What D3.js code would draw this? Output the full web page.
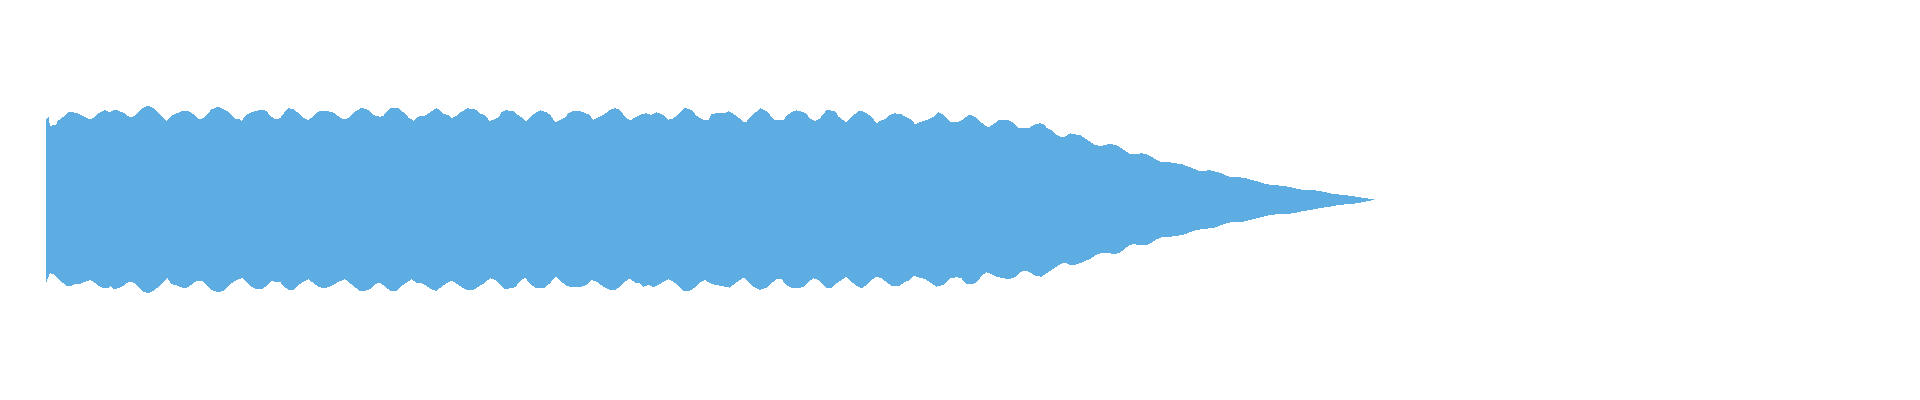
<!DOCTYPE html>
<html lang="en">
<head>
    <meta charset="UTF-8">
    <title>Waveform</title>
    <style>
        body {
            margin: 0;
            background-color: white;
        }

        svg {
            display: block;
            background-color: white;
        }
    </style>
</head>
<body>
    <svg width="1920" height="400" id="wave"></svg>

    <script src="https://d3js.org/d3.v7.min.js"></script>
    <script>
        // Envelope of the waveform
        // each entry: [time in seconds, amplitude]
        const upperEnvelope = [
            [0, 0.27], [0.001, 0.805], [0.005, 0.825], [0.008, 0.738], [0.020, 0.745], [0.023, 0.785],
            [0.035, 0.828], [0.045, 0.872], [0.051, 0.872], [0.061, 0.868], [0.068, 0.852], [0.077, 0.825],
            [0.088, 0.798], [0.095, 0.818], [0.105, 0.862], [0.118, 0.895], [0.128, 0.872], [0.138, 0.902],
            [0.148, 0.878], [0.158, 0.862], [0.168, 0.818], [0.178, 0.838], [0.188, 0.895], [0.201, 0.935],
            [0.211, 0.928], [0.221, 0.885], [0.231, 0.838], [0.241, 0.785], [0.251, 0.838], [0.261, 0.862],
            [0.275, 0.888], [0.285, 0.885], [0.295, 0.852], [0.305, 0.805], [0.315, 0.812], [0.321, 0.845],
            [0.331, 0.902], [0.345, 0.928], [0.355, 0.902], [0.365, 0.878], [0.378, 0.805], [0.388, 0.805],
            [0.391, 0.788], [0.401, 0.845], [0.411, 0.872], [0.428, 0.895], [0.441, 0.888], [0.448, 0.838],
            [0.458, 0.805], [0.468, 0.812], [0.478, 0.878], [0.485, 0.912], [0.495, 0.902], [0.505, 0.862],
            [0.515, 0.818], [0.525, 0.792], [0.535, 0.838], [0.545, 0.878], [0.555, 0.888], [0.568, 0.878],
            [0.578, 0.862], [0.588, 0.818], [0.598, 0.798], [0.608, 0.828], [0.618, 0.878], [0.631, 0.918],
            [0.645, 0.895], [0.655, 0.845], [0.668, 0.828], [0.675, 0.838], [0.681, 0.878], [0.689, 0.912],
            [0.705, 0.912], [0.711, 0.885], [0.718, 0.862], [0.725, 0.818], [0.735, 0.788], [0.741, 0.818],
            [0.748, 0.838], [0.758, 0.838], [0.765, 0.862], [0.775, 0.895], [0.781, 0.912], [0.788, 0.895],
            [0.795, 0.855], [0.805, 0.845], [0.811, 0.812], [0.821, 0.838], [0.831, 0.878], [0.843, 0.912],
            [0.858, 0.902], [0.868, 0.862], [0.878, 0.838], [0.887, 0.788], [0.895, 0.795], [0.905, 0.822],
            [0.911, 0.872], [0.918, 0.892], [0.928, 0.888], [0.935, 0.888], [0.941, 0.855], [0.951, 0.822],
            [0.960, 0.778], [0.968, 0.822], [0.975, 0.852], [0.988, 0.892], [0.998, 0.878], [1.008, 0.852],
            [1.018, 0.772], [1.028, 0.795], [1.038, 0.822], [1.045, 0.862], [1.051, 0.878], [1.061, 0.888],
            [1.071, 0.878], [1.085, 0.852], [1.095, 0.798], [1.105, 0.822], [1.115, 0.845], [1.128, 0.895],
            [1.138, 0.912], [1.148, 0.895], [1.158, 0.828], [1.168, 0.788], [1.178, 0.822], [1.191, 0.855],
            [1.201, 0.862], [1.211, 0.845], [1.221, 0.872], [1.235, 0.845], [1.245, 0.798], [1.255, 0.812],
            [1.265, 0.852], [1.278, 0.918], [1.291, 0.895], [1.301, 0.838], [1.315, 0.795], [1.325, 0.795],
            [1.331, 0.855], [1.341, 0.862], [1.348, 0.865], [1.358, 0.862], [1.365, 0.885], [1.375, 0.855],
            [1.385, 0.818], [1.395, 0.778], [1.401, 0.778], [1.411, 0.838], [1.421, 0.878], [1.429, 0.912],
            [1.441, 0.885], [1.448, 0.845], [1.458, 0.792], [1.468, 0.795], [1.475, 0.795], [1.481, 0.838],
            [1.491, 0.872], [1.501, 0.892], [1.518, 0.868], [1.528, 0.812], [1.538, 0.785], [1.548, 0.812],
            [1.561, 0.895], [1.578, 0.885], [1.585, 0.828], [1.591, 0.805], [1.601, 0.772], [1.608, 0.805],
            [1.615, 0.845], [1.628, 0.892], [1.641, 0.862], [1.651, 0.828], [1.661, 0.762], [1.668, 0.788],
            [1.678, 0.805], [1.688, 0.845], [1.698, 0.862], [1.711, 0.852], [1.721, 0.822], [1.731, 0.795],
            [1.738, 0.752], [1.748, 0.772], [1.761, 0.795], [1.775, 0.828], [1.785, 0.872], [1.795, 0.845],
            [1.808, 0.778], [1.825, 0.778], [1.835, 0.805], [1.845, 0.845], [1.855, 0.838], [1.865, 0.795],
            [1.875, 0.752], [1.885, 0.722], [1.895, 0.752], [1.905, 0.792], [1.918, 0.795], [1.928, 0.788],
            [1.938, 0.752], [1.945, 0.718], [1.955, 0.712], [1.965, 0.712], [1.975, 0.745], [1.988, 0.762],
            [1.995, 0.755], [2.001, 0.718], [2.011, 0.695], [2.021, 0.645], [2.028, 0.628], [2.038, 0.628],
            [2.048, 0.662], [2.058, 0.652], [2.068, 0.645], [2.078, 0.612], [2.088, 0.578], [2.098, 0.545],
            [2.111, 0.535], [2.125, 0.555], [2.141, 0.545], [2.151, 0.512], [2.161, 0.478], [2.168, 0.455],
            [2.181, 0.452], [2.191, 0.462], [2.201, 0.452], [2.211, 0.428], [2.221, 0.395], [2.231, 0.372],
            [2.248, 0.372], [2.258, 0.362], [2.271, 0.355], [2.281, 0.335], [2.291, 0.318], [2.305, 0.288],
            [2.318, 0.285], [2.325, 0.295], [2.335, 0.285], [2.348, 0.268], [2.361, 0.235], [2.375, 0.222],
            [2.388, 0.222], [2.401, 0.212], [2.411, 0.195], [2.425, 0.178], [2.441, 0.152], [2.461, 0.142],
            [2.475, 0.135], [2.491, 0.122], [2.505, 0.102], [2.521, 0.095], [2.538, 0.092], [2.555, 0.078],
            [2.568, 0.062], [2.581, 0.052], [2.595, 0.045], [2.608, 0.038], [2.621, 0.028], [2.635, 0.015],
            [2.648, 0.008], [2.656, 0.002]
        ];

        const lowerEnvelope = [
            [0, -0.27], [0.001, -0.822], [0.008, -0.738], [0.015, -0.745], [0.021, -0.772], [0.031, -0.822],
            [0.041, -0.865], [0.051, -0.865], [0.058, -0.845], [0.068, -0.845], [0.078, -0.822], [0.088, -0.805],
            [0.095, -0.822], [0.105, -0.865], [0.115, -0.888], [0.125, -0.888], [0.128, -0.865], [0.135, -0.898],
            [0.145, -0.888], [0.155, -0.865], [0.165, -0.822], [0.175, -0.832], [0.185, -0.872], [0.195, -0.922],
            [0.205, -0.938], [0.215, -0.915], [0.225, -0.872], [0.235, -0.822], [0.243, -0.788], [0.251, -0.848],
            [0.261, -0.858], [0.275, -0.888], [0.285, -0.878], [0.295, -0.832], [0.305, -0.812], [0.315, -0.822],
            [0.321, -0.855], [0.331, -0.905], [0.345, -0.928], [0.355, -0.912], [0.365, -0.865], [0.375, -0.822],
            [0.385, -0.795], [0.393, -0.788], [0.401, -0.828], [0.411, -0.872], [0.421, -0.898], [0.431, -0.898],
            [0.441, -0.865], [0.451, -0.812], [0.461, -0.828], [0.468, -0.822], [0.475, -0.865], [0.485, -0.905],
            [0.495, -0.905], [0.505, -0.855], [0.515, -0.822], [0.525, -0.795], [0.535, -0.838], [0.545, -0.872],
            [0.555, -0.888], [0.565, -0.878], [0.575, -0.855], [0.585, -0.822], [0.598, -0.798], [0.608, -0.838],
            [0.618, -0.878], [0.628, -0.915], [0.638, -0.912], [0.648, -0.898], [0.658, -0.845], [0.668, -0.832],
            [0.678, -0.872], [0.688, -0.912], [0.701, -0.915], [0.711, -0.865], [0.721, -0.832], [0.731, -0.798],
            [0.741, -0.832], [0.751, -0.838], [0.761, -0.865], [0.771, -0.898], [0.781, -0.915], [0.791, -0.872],
            [0.801, -0.838], [0.811, -0.815], [0.818, -0.832], [0.828, -0.865], [0.841, -0.905], [0.855, -0.905],
            [0.865, -0.872], [0.878, -0.832], [0.888, -0.788], [0.898, -0.805], [0.908, -0.845], [0.918, -0.898],
            [0.928, -0.888], [0.938, -0.878], [0.948, -0.822], [0.958, -0.778], [0.968, -0.845], [0.981, -0.888],
            [0.995, -0.888], [1.008, -0.838], [1.020, -0.765], [1.031, -0.822], [1.041, -0.865], [1.055, -0.878],
            [1.068, -0.878], [1.081, -0.855], [1.091, -0.805], [1.101, -0.822], [1.115, -0.872], [1.128, -0.905],
            [1.138, -0.905], [1.148, -0.872], [1.158, -0.822], [1.168, -0.788], [1.178, -0.832], [1.188, -0.838],
            [1.195, -0.872], [1.205, -0.855], [1.215, -0.878], [1.225, -0.855], [1.235, -0.822], [1.245, -0.798],
            [1.255, -0.822], [1.265, -0.865], [1.275, -0.915], [1.288, -0.912], [1.298, -0.878], [1.308, -0.832],
            [1.318, -0.805], [1.328, -0.838], [1.338, -0.855], [1.348, -0.862], [1.358, -0.872], [1.368, -0.882],
            [1.378, -0.838], [1.388, -0.805], [1.396, -0.778], [1.405, -0.822], [1.415, -0.872], [1.428, -0.905],
            [1.441, -0.882], [1.451, -0.838], [1.461, -0.795], [1.471, -0.798], [1.481, -0.855], [1.491, -0.882],
            [1.505, -0.888], [1.515, -0.872], [1.525, -0.822], [1.535, -0.788], [1.545, -0.805], [1.555, -0.855],
            [1.561, -0.888], [1.571, -0.888], [1.581, -0.838], [1.591, -0.805], [1.601, -0.772], [1.611, -0.822],
            [1.621, -0.865], [1.631, -0.888], [1.641, -0.855], [1.651, -0.805], [1.661, -0.772], [1.671, -0.788],
            [1.681, -0.828], [1.691, -0.862], [1.708, -0.862], [1.718, -0.822], [1.728, -0.805], [1.735, -0.762],
            [1.745, -0.778], [1.758, -0.795], [1.768, -0.828], [1.781, -0.872], [1.795, -0.855], [1.808, -0.788],
            [1.821, -0.778], [1.831, -0.788], [1.841, -0.848], [1.855, -0.848], [1.865, -0.805], [1.871, -0.762],
            [1.881, -0.728], [1.891, -0.748], [1.901, -0.772], [1.915, -0.788], [1.928, -0.795], [1.938, -0.778],
            [1.948, -0.728], [1.958, -0.712], [1.968, -0.728], [1.978, -0.762], [1.991, -0.772], [2.001, -0.738],
            [2.011, -0.705], [2.021, -0.672], [2.028, -0.648], [2.038, -0.632], [2.048, -0.655], [2.058, -0.655],
            [2.068, -0.638], [2.078, -0.615], [2.088, -0.598], [2.098, -0.562], [2.108, -0.538], [2.121, -0.532],
            [2.135, -0.545], [2.145, -0.538], [2.155, -0.505], [2.165, -0.462], [2.175, -0.445], [2.188, -0.458],
            [2.201, -0.455], [2.211, -0.432], [2.221, -0.398], [2.235, -0.372], [2.248, -0.372], [2.261, -0.365],
            [2.275, -0.352], [2.288, -0.328], [2.301, -0.305], [2.321, -0.292], [2.335, -0.285], [2.348, -0.262],
            [2.361, -0.238], [2.375, -0.222], [2.395, -0.222], [2.408, -0.205], [2.421, -0.188], [2.435, -0.172],
            [2.448, -0.155], [2.461, -0.148], [2.481, -0.145], [2.495, -0.138], [2.508, -0.122], [2.528, -0.105],
            [2.548, -0.085], [2.568, -0.072], [2.581, -0.058], [2.601, -0.048], [2.615, -0.042], [2.628, -0.032],
            [2.641, -0.018], [2.656, -0.005]
        ];

        const svg = d3.select("#wave");

        // 500 px per second, waveform starts at x = 46
        const xScale = d3.scaleLinear().domain([0, 2.656]).range([46, 1374]);
        const yScale = d3.scaleLinear().domain([-1, 1]).range([299.5, 99.5]);

        const line = d3.line()
            .x(d => xScale(d[0]))
            .y(d => yScale(d[1]));

        // top edge forward, bottom edge back, one closed shape
        const outline = upperEnvelope.concat(lowerEnvelope.slice().reverse());

        svg.append("path")
            .datum(outline)
            .attr("d", d => line(d) + "Z")
            .attr("fill", "#5dade2")
            .attr("stroke", "none")
            .attr("shape-rendering", "crispEdges");
    </script>
</body>
</html>
